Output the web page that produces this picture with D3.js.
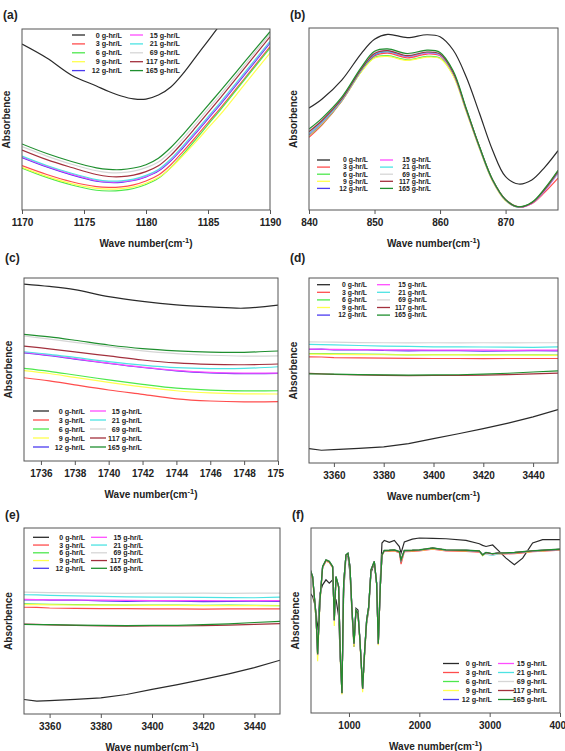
<!DOCTYPE html>
<html>
<head>
<meta charset="utf-8">
<script src="https://d3js.org/d3.v7.min.js"></script>
<style>
  body { margin: 0; background: #fff; }
  text { font-family: "Liberation Sans", Arial, sans-serif; font-weight: bold; fill: #222; }
</style>
</head>
<body>
<svg id="chart" width="565" height="751"></svg>
<script>
const doses = ["0 g-hr/L", "3 g-hr/L", "6 g-hr/L", "9 g-hr/L", "12 g-hr/L",
               "15 g-hr/L", "21 g-hr/L", "69 g-hr/L", "117 g-hr/L", "165 g-hr/L"];
const colors = ["#2a2a2a", "#ff4d4d", "#4de84d", "#ffff4d", "#4b3bf0",
                "#ff4dff", "#4de3e3", "#d6d6d6", "#a3303d", "#1f8f2f"];

// (a) 1170-1190 cm-1
const waveA = [1170, 1172, 1174, 1176, 1177, 1178, 1179, 1180, 1181, 1182, 1183, 1184, 1185, 1186, 1188, 1190];
const a0   = [91.7, 84, 74.5, 68.5, 65.5, 63, 61.4, 61.3, 63.5, 68, 75.5, 84.5, 93.5, 102.5, 120, 138];
const a3   = [24.5, 19.6, 15.6, 12.9, 12.5, 12.8, 13.9, 16, 19.3, 25, 32.4, 40.2, 48.3, 56.3, 73.2, 90.2];
const a6   = [23.2, 18, 13.8, 10.9, 10.5, 10.8, 11.9, 14.1, 17.5, 23.4, 30.9, 38.9, 47.2, 55.3, 72.4, 89.5];
const a9   = [23.6, 18.6, 14.6, 11.9, 11.5, 11.8, 12.8, 14.8, 17.9, 23.3, 30.2, 37.5, 45.2, 52.8, 69.8, 86.7];
const a12  = [29, 23.8, 19.4, 15.9, 15.2, 15.3, 16.3, 18.3, 21.5, 27.2, 34.5, 42.3, 50.4, 58.4, 75.2, 92.3];
const a15  = [29.4, 24.2, 19.8, 16.3, 15.5, 15.6, 16.6, 18.6, 21.9, 27.7, 35.1, 42.9, 51, 59, 75.9, 93];
const a21  = [29.8, 24.6, 20.3, 16.8, 16, 16.1, 17.1, 19.1, 22.4, 28.2, 35.6, 43.4, 51.5, 59.5, 76.3, 93.2];
const a69  = [35, 29.8, 25.3, 21.7, 20.7, 20.6, 21.5, 23.4, 26.5, 32.3, 39.6, 47.6, 55.7, 63.8, 80.5, 97.2];
const a117 = [33.1, 27.8, 23.5, 19.6, 18.5, 18.4, 19.3, 21.2, 24.4, 30.2, 37.6, 45.6, 53.8, 62, 78.8, 95.7];
const a165 = [36.5, 31.2, 26.8, 23.3, 22.4, 22.3, 23.2, 25, 28.6, 34.5, 41.8, 49.8, 57.8, 65.8, 82.2, 98.5];

// (b) 840-878 cm-1
const waveB = [840, 842, 845, 848, 850, 852, 855, 858, 860, 862, 864, 866, 868, 870, 872, 874, 876, 878];
const b0   = [56, 61, 71.4, 86.1, 93.8, 96.5, 94.7, 96.3, 95.2, 87.9, 73.1, 53.3, 33, 18.3, 14.3, 16.5, 23.6, 32.6];
const b3   = [40, 46.8, 59.8, 76.4, 84.6, 86.2, 83.6, 85.7, 84.7, 75, 55, 34.8, 16.8, 5.8, 1.8, 3.4, 9.8, 17.5];
const b6   = [41, 47.4, 60, 76.2, 83.8, 84.8, 82.5, 84.4, 83.5, 74.2, 54.5, 34.2, 16.2, 5.3, 1.5, 3.8, 11, 20.5];
const b9   = [41.2, 47.6, 60.1, 76, 83.5, 84.4, 82.2, 84, 83.2, 73.8, 54, 33.8, 15.8, 5, 1.6, 4, 11.2, 20.8];
const b12  = [41.5, 48, 60.4, 76.9, 85.2, 87, 84.4, 86.4, 85.2, 75.3, 55, 34.6, 16.5, 5.5, 1.6, 3.8, 11, 20.9];
const b15  = [41.8, 48.2, 60.6, 77.2, 85.8, 87.4, 84.5, 86.3, 85.1, 75.2, 54.9, 34.5, 16.4, 5.4, 1.5, 3.6, 10.6, 20.2];
const b21  = [42, 48.4, 60.7, 77.1, 85.6, 87.2, 84.7, 86.6, 85.4, 75.4, 55, 34.6, 16.5, 5.5, 1.6, 3.8, 11, 20.6];
const b69  = [43.5, 49.6, 61.5, 78, 86.8, 88.2, 85.6, 87.5, 86.2, 76, 55.5, 34.9, 16.7, 5.6, 1.8, 4, 11.6, 21.4];
const b117 = [43, 49.2, 61, 77.5, 86, 87.6, 84.8, 86.8, 85.7, 75.6, 55.2, 34.8, 16.6, 5.6, 1.7, 3.9, 11.4, 21.2];
const b165 = [44.5, 50.5, 62, 78.5, 87.2, 88.5, 86, 87.8, 86.6, 76.5, 55.8, 35, 16.8, 5.7, 1.8, 4.2, 12, 21.8];

// (c) 1735-1750 cm-1
const waveC = [1735, 1736.5, 1738, 1740, 1742, 1744, 1746, 1748, 1750];
const c0   = [96.7, 95.4, 93.6, 89.8, 87.2, 85.3, 84.2, 83.5, 85.2];
const c3   = [45.5, 43.8, 41.6, 38.8, 36.4, 34, 32.8, 32.3, 32.4];
const c6   = [50.6, 49, 47, 44.3, 41.9, 39.8, 38.7, 38.3, 38.4];
const c9   = [49.4, 47.8, 45.7, 43, 40.5, 38.4, 37.2, 36.7, 36.6];
const c12  = [59.1, 57.6, 55.7, 53.3, 51.1, 49.3, 48.2, 47.8, 47.9];
const c15  = [59.3, 57.8, 55.9, 53.5, 51.3, 49.5, 48.4, 48, 48];
const c21  = [59.7, 58.3, 56.6, 54.3, 52.4, 51, 50.5, 50.6, 51.5];
const c69  = [68.3, 66.6, 64.8, 62.5, 60.2, 58.7, 57.8, 57.3, 57.4];
const c117 = [62.8, 61.3, 59.6, 57.4, 55.2, 53.6, 52.8, 52.6, 53];
const c165 = [69.2, 67.8, 66, 63.4, 61.4, 60.2, 59.5, 59.4, 60.1];

// (d) and (e) 3350-3450 cm-1 (O-H region)
const waveOH = [3350, 3355, 3360, 3370, 3380, 3390, 3400, 3410, 3420, 3430, 3440, 3450];
const oh0   = [7.8, 6.9, 7.2, 7.9, 8.7, 10.5, 13.2, 15.8, 18.6, 21.6, 24.9, 28.9];
const oh3   = [57.4, 57.3, 57, 56.8, 56.7, 56.6, 56.5, 56.5, 56.4, 56.5, 56.5, 56.5];
const oh6   = [59.2, 59.1, 59, 58.8, 58.7, 58.5, 58.6, 58.5, 58.4, 58.5, 58.4, 58.3];
const oh9   = [58.8, 58.8, 58.7, 58.6, 58.5, 58.5, 58.4, 58.4, 58.3, 58.3, 58.3, 58.2];
const oh12  = [61.4, 61.5, 61.2, 61.3, 60.8, 60.6, 60.8, 60.7, 60.4, 60.6, 60.7, 60.6];
const oh15  = [61.6, 61.5, 61.4, 61.3, 61.2, 61.1, 61, 61, 61, 60.9, 61, 61];
const oh21  = [64.1, 64, 63.8, 63.5, 63.2, 63, 62.8, 62.8, 62.7, 62.6, 62.5, 62.8];
const oh69  = [65.5, 65.4, 65.3, 65.1, 65, 64.9, 65, 64.9, 65, 64.9, 65, 65];
const oh117 = [48.4, 48.2, 47.9, 47.6, 47.4, 47.2, 47.3, 47.3, 47.5, 47.8, 48.2, 48.6];
const oh165 = [48.2, 48.1, 48, 47.8, 47.6, 47.5, 47.6, 47.7, 48, 48.5, 49.2, 49.8];

// (f) full spectrum 450-4000 cm-1
const waveF = [450, 483, 510, 530, 554, 587, 625, 673, 720, 768, 791, 815, 853, 877, 900, 924, 957, 986, 1014, 1043,
  1071, 1099, 1128, 1156, 1194, 1223, 1251, 1280, 1313, 1360, 1393, 1417, 1445, 1469, 1502, 1573, 1645, 1716, 1740, 1787,
  1900, 2000, 2190, 2379, 2664, 2853, 2900, 2948, 3043, 3114, 3232, 3351, 3469, 3611, 3753, 4000];
const f0 = [64.7, 63, 59.3, 52, 44.8, 64.7, 69.3, 72, 70.2, 72, 55.7, 61.5, 52.4, 28.6, 14.1, 64.7, 84.6, 84.6, 75.6, 53.9,
  35.8, 56.6, 55.7, 39.4, 14.1, 32.5, 48.5, 55.7, 75.6, 81, 70.2, 39.4, 72, 91.9, 93.3, 92.2, 93.3, 90, 86.4, 92.5,
  94, 94.6, 94.4, 94.2, 93.3, 91.5, 90.6, 90, 90.8, 88.2, 83.7, 80.1, 83.7, 91.9, 93.7, 93.7];
const f3 = [76, 72.5, 61, 53, 34, 60, 78.5, 82, 81.4, 78.6, 52, 73, 67.5, 33, 12, 69.5, 85, 86, 78.6, 55,
  37, 55, 53.4, 38.6, 14, 33.4, 49.6, 57, 77, 81.6, 69.6, 37, 68, 85, 87.4, 87.4, 87.6, 86.6, 80.5, 87.2,
  87.4, 87.6, 88.6, 87.6, 87.4, 87, 85.6, 86.2, 85.6, 86, 86, 86.2, 86.6, 87.2, 87.5, 88];
const f6 = [77, 73.4, 61.6, 53.4, 31, 60.6, 79, 82.6, 81.8, 79, 50, 73.4, 68, 30, 10.6, 70, 85.3, 86.2, 79, 55.4,
  37.2, 55.4, 53.6, 39, 13, 33.6, 50, 57.2, 77.2, 81.8, 70, 37.2, 68.2, 85.3, 87.7, 87.8, 88, 87, 82.4, 87.7,
  87.8, 88, 89, 88, 87.8, 87.4, 85, 86.5, 85.9, 86.3, 86.4, 86.6, 87, 87.5, 87.8, 88.4];
const f9 = [76.5, 72.8, 60, 52, 28, 59.5, 78.6, 82.2, 81.5, 78.6, 47, 73, 67.6, 28.5, 10, 69.6, 85.2, 86, 78.6, 54.6,
  35.8, 55, 53.2, 38, 11.2, 32.6, 49.5, 56.8, 77, 81.6, 69.6, 36.6, 67.8, 85.2, 87.6, 87.7, 87.9, 87, 82, 87.6,
  87.7, 87.9, 88.9, 87.9, 87.7, 87.3, 85.2, 86.4, 85.8, 86.2, 86.3, 86.5, 86.9, 87.4, 87.7, 88.3];
const f12 = [77.2, 73.6, 61.8, 53.6, 31.6, 60.8, 79, 82.6, 81.8, 79, 50, 73.6, 68.2, 30.2, 10.8, 70, 85.4, 86.3, 79, 55.5,
  37.4, 55.5, 53.7, 39.2, 13, 33.8, 50.1, 57.3, 77.2, 81.9, 70, 37.4, 68.2, 85.4, 87.8, 87.9, 88.1, 87.2, 82.6, 87.8,
  87.9, 88.1, 89.1, 88.1, 87.9, 87.5, 85.8, 86.7, 86, 86.4, 86.5, 86.7, 87.1, 87.6, 87.9, 88.5];
const f15 = [77.3, 73.7, 61.9, 53.7, 31.8, 60.9, 79.1, 82.7, 81.9, 79.1, 50.2, 73.7, 68.3, 30.3, 10.8, 70.1, 85.4, 86.3, 79.1, 55.6,
  37.5, 55.6, 53.8, 39.3, 13.1, 33.9, 50.2, 57.4, 77.3, 81.9, 70.1, 37.5, 68.3, 85.4, 87.8, 87.9, 88.1, 87.2, 82.7, 87.8,
  87.9, 88.1, 89.1, 88.1, 87.9, 87.5, 85.6, 86.6, 85.9, 86.4, 86.5, 86.7, 87.1, 87.6, 87.9, 88.5];
const f21 = [77.3, 73.7, 61.9, 53.7, 31.9, 60.9, 79.1, 82.7, 81.9, 79.1, 50.2, 73.7, 68.3, 30.3, 10.8, 70.1, 85.4, 86.3, 79.1, 55.6,
  37.5, 55.6, 53.8, 39.3, 13.1, 33.9, 50.2, 57.4, 77.3, 81.9, 70.1, 37.5, 68.3, 85.4, 87.8, 87.9, 88.1, 87.2, 82.7, 87.8,
  87.9, 88.1, 89.1, 88.1, 87.9, 87.4, 86, 85.8, 85.2, 86, 86.4, 86.7, 87.1, 87.6, 87.9, 88.5];
const f69 = [77.5, 73.9, 62.1, 54, 32.2, 61.1, 79.3, 82.9, 82.1, 79.3, 50.5, 73.9, 68.5, 30.6, 11, 70.3, 85.6, 86.5, 79.3, 55.8,
  37.7, 55.8, 54, 39.5, 13.3, 34.1, 50.4, 57.6, 77.5, 82.1, 70.3, 37.7, 68.5, 85.6, 88, 88.1, 88.3, 87.4, 83, 88,
  88.1, 88.3, 89.3, 88.3, 88.1, 87.6, 85.9, 86, 85.4, 86.2, 86.6, 86.9, 87.3, 87.8, 88.1, 88.7];
const f117 = [77.2, 73.6, 61.8, 53.6, 31.8, 60.8, 79, 82.6, 81.8, 79, 50.1, 73.6, 68.2, 30.2, 10.7, 70, 85.4, 86.2, 79, 55.5,
  37.4, 55.5, 53.7, 39.2, 13.1, 33.8, 50.1, 57.3, 77.2, 81.8, 70, 37.4, 68.2, 85.4, 87.8, 87.9, 88.1, 87.1, 82.6, 87.8,
  87.9, 88.1, 89.1, 88.1, 87.9, 87.5, 85.4, 86.7, 86, 86.4, 86.5, 86.7, 87.1, 87.6, 87.9, 88.5];
const f165 = [77.4, 73.8, 62, 53.9, 32, 61, 79.2, 82.8, 82, 79.2, 50.3, 73.8, 68.4, 30.4, 10.8, 70.2, 85.5, 86.4, 79.2, 55.7,
  37.6, 55.7, 53.9, 39.4, 13.2, 34, 50.3, 57.5, 77.4, 82, 70.2, 37.6, 68.4, 85.5, 87.9, 88, 88.2, 87.3, 82.8, 87.9,
  88, 88.2, 89.2, 88.2, 88, 87.6, 85.5, 86.8, 86.1, 86.5, 86.6, 86.8, 87.2, 87.7, 88, 88.6];

const svg = d3.select("#chart");

const panels = [
  { name: "a", box: [22, 29, 270, 210], domain: [1170, 1190], ticks: [1170, 1175, 1180, 1185, 1190],
    wave: waveA, series: [a0, a3, a6, a9, a12, a15, a21, a69, a117, a165], curve: d3.curveCatmullRom,
    legend: { x: 72, y: 35, dy: 8.9, fs: 7.2, gap: 58, len: 13, tr: 50 }, cut: 284, tag: 10 },
  { name: "b", box: [309, 28, 558, 210], domain: [840, 878], ticks: [840, 850, 860, 870],
    wave: waveB, series: [b0, b3, b6, b9, b12, b15, b21, b69, b117, b165], curve: d3.curveCatmullRom,
    legend: { x: 317, y: 160, dy: 7.1, fs: 6.8, gap: 63, len: 13, tr: 51 }, tag: 9 },
  { name: "c", box: [24, 278, 278, 461], domain: [1735, 1750], ticks: [1736, 1738, 1740, 1742, 1744, 1746, 1748, 1750],
    wave: waveC, series: [c0, c3, c6, c9, c12, c15, c21, c69, c117, c165], curve: d3.curveCatmullRom,
    legend: { x: 33, y: 411, dy: 9, fs: 7.2, gap: 57, len: 16, tr: 52 }, cut: 284, tag: 16 },
  { name: "d", box: [309, 278, 558, 463], domain: [3350, 3450], ticks: [3360, 3380, 3400, 3420, 3440],
    wave: waveOH, series: [oh0, oh3, oh6, oh9, oh12, oh15, oh21, oh69, oh117, oh165], curve: d3.curveLinear,
    legend: { x: 317, y: 284.7, dy: 7.6, fs: 6.8, gap: 60, len: 13, tr: 50 }, tag: 16 },
  { name: "e", box: [24, 528, 280, 714], domain: [3350, 3450], ticks: [3360, 3380, 3400, 3420, 3440],
    wave: waveOH, series: [oh0, oh3, oh6, oh9, oh12, oh15, oh21, oh69, oh117, oh165], curve: d3.curveLinear,
    legend: { x: 33, y: 537.3, dy: 7.75, fs: 7, gap: 58, len: 16, tr: 52 }, cut: 284, tag: 9 },
  { name: "f", box: [311, 528, 560, 713], domain: [460, 4000], ticks: [1000, 2000, 3000, 4000],
    wave: waveF, series: [f0, f3, f6, f9, f12, f15, f21, f69, f117, f165], curve: d3.curveLinear,
    legend: { x: 443, y: 663.5, dy: 9, fs: 7.2, gap: 55, len: 16, tr: 49 }, tag: 9 }
];

const defs = svg.append("defs");

panels.forEach((p) => {
  const [l, t, r, b] = p.box;
  const x = d3.scaleLinear().domain(p.domain).range([l, r]);
  const y = d3.scaleLinear().domain([0, 100]).range([b, t]);

  const g = svg.append("g");
  if (p.cut) {
    defs.append("clipPath").attr("id", "cut-" + p.name)
      .append("rect").attr("x", 0).attr("y", t - 30).attr("width", p.cut).attr("height", b - t + 70);
    g.attr("clip-path", `url(#cut-${p.name})`);
  }

  defs.append("clipPath").attr("id", "plot-" + p.name)
    .append("rect").attr("x", l).attr("y", t).attr("width", r - l).attr("height", b - t);

  const line = d3.line()
    .x((d, i) => x(p.wave[i]))
    .y((d) => y(d))
    .curve(p.curve);

  g.append("g")
    .attr("clip-path", `url(#plot-${p.name})`)
    .selectAll("path")
    .data(p.series)
    .join("path")
    .attr("d", line)
    .attr("fill", "none")
    .attr("stroke", (d, i) => colors[i])
    .attr("stroke-width", 1.2);

  // frame
  g.append("rect")
    .attr("x", l).attr("y", t)
    .attr("width", r - l).attr("height", b - t)
    .attr("fill", "none")
    .attr("stroke", "#555")
    .attr("stroke-width", 1);

  const ax = g.append("g")
    .attr("transform", `translate(0,${b})`)
    .call(d3.axisBottom(x).tickValues(p.ticks).tickSize(4).tickPadding(5).tickFormat(d3.format("d")));
  ax.select(".domain").remove();
  ax.selectAll(".tick line").attr("stroke", "#555");
  ax.selectAll(".tick text")
    .attr("font-size", 10)
    .attr("font-family", null)
    .attr("fill", "#222");

  // x label with superscript
  const xl = g.append("text")
    .attr("x", (l + r) / 2)
    .attr("y", b + 37)
    .attr("text-anchor", "middle")
    .attr("font-size", 10);
  xl.append("tspan").text("Wave number(cm");
  xl.append("tspan").attr("dy", -4).attr("font-size", 7.5).text("-1");
  xl.append("tspan").attr("dy", 4).text(")");

  g.append("text")
    .attr("transform", `translate(${l - 12},${(t + b) / 2}) rotate(-90)`)
    .attr("text-anchor", "middle")
    .attr("font-size", 10)
    .text("Absorbence");

  g.append("text")
    .attr("x", l - 19)
    .attr("y", t - p.tag)
    .attr("font-size", 12)
    .text("(" + p.name + ")");

  // legend, two columns of five
  const lg = p.legend;
  const items = g.append("g").selectAll("g")
    .data(doses)
    .join("g")
    .attr("transform", (d, i) =>
      `translate(${lg.x + Math.floor(i / 5) * lg.gap},${lg.y + (i % 5) * lg.dy})`);
  items.append("line")
    .attr("x1", 0).attr("x2", lg.len)
    .attr("stroke", (d, i) => colors[i])
    .attr("stroke-width", 1.3);
  items.append("text")
    .attr("x", lg.tr)
    .attr("y", lg.fs * 0.35)
    .attr("text-anchor", "end")
    .attr("font-size", lg.fs)
    .text((d) => d);
});
</script>
</body>
</html>
